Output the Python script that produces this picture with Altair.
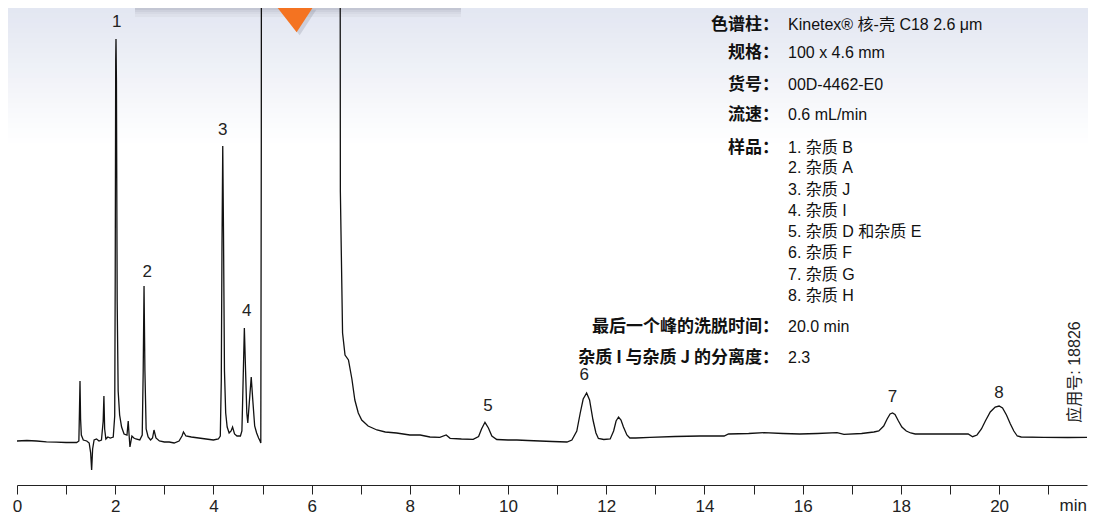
import altair as alt
import pandas as pd

# ---- chromatogram trace (time in min, detector signal, arbitrary units) ----
time_min = [
    0.00, 0.20, 0.40, 0.60, 0.80, 1.00, 1.215, 1.26, 1.272, 1.283, 1.295, 1.31, 1.35, 1.42,
    1.47, 1.50, 1.52, 1.54, 1.57, 1.62, 1.67, 1.72, 1.755, 1.77, 1.785, 1.81, 1.85, 1.90,
    1.96, 1.99, 2.00, 2.01, 2.016, 2.025, 2.04, 2.06, 2.09, 2.13, 2.18, 2.24, 2.265, 2.28,
    2.30, 2.34, 2.38, 2.42, 2.50, 2.55, 2.57, 2.587, 2.605, 2.63, 2.67, 2.72, 2.76, 2.79,
    2.83, 2.90, 3.00, 3.10, 3.20, 3.30, 3.36, 3.39, 3.44, 3.55, 3.70, 3.85, 4.00, 4.10,
    4.14, 4.16, 4.175, 4.19, 4.205, 4.225, 4.25, 4.28, 4.32, 4.36, 4.39, 4.43, 4.48, 4.55,
    4.58, 4.60, 4.63, 4.655, 4.68, 4.70, 4.73, 4.77, 4.80, 4.84, 4.88, 4.92, 4.95, 4.965,
    4.975, 4.985, 6.57, 6.585, 6.63, 6.68, 6.75, 6.82, 6.88, 6.95, 7.02, 7.15, 7.33, 7.50,
    7.73, 8.00, 8.21, 8.41, 8.61, 8.74, 8.82, 9.05, 9.29, 9.40, 9.46, 9.53, 9.60, 9.67,
    9.77, 10.00, 10.18, 10.40, 10.65, 10.90, 11.20, 11.30, 11.40, 11.47, 11.53, 11.60, 11.66, 11.73,
    11.79, 11.84, 11.95, 12.08, 12.15, 12.20, 12.25, 12.30, 12.35, 12.42, 12.48, 12.60, 12.89, 13.40,
    13.91, 14.40, 14.49, 14.90, 15.21, 15.60, 15.94, 16.30, 16.70, 16.84, 17.20, 17.45, 17.55, 17.65,
    17.72, 17.78, 17.83, 17.88, 17.95, 18.02, 18.11, 18.20, 18.29, 18.80, 19.37, 19.46, 19.55, 19.64,
    19.72, 19.82, 19.92, 20.00, 20.07, 20.15, 20.23, 20.30, 20.37, 20.45, 20.91, 21.40, 21.98,
]
signal = [
    0.0, 0.5, 0.0, -0.8, -1.2, -1.5, -1.5, 0.0, 30, 60, 22, 6, 1, 0,
    -2, -12, -29, -8, 1, 2, 0, 1, 20, 45, 12, 2, 4, 3,
    4, 25, 160, 380, 402, 360, 140, 50, 26, 14, 7, 6, 20, 8,
    -6, 5, 3, 2, 1, 6, 70, 155, 70, 12, 4, 1, 3, 11,
    3, 0, -1, -1, -2, 0, 5, 9, 5, 4, 3, 2, 1, 2,
    5, 60, 200, 295, 210, 70, 28, 14, 8, 10, 14, 7, 5, 5,
    10, 50, 113, 70, 28, 18, 38, 64, 42, 15, 8, 3, 0, -2,
    300, 1200, 1200, 250, 108, 86, 81, 62, 41, 28, 21, 15, 11, 9,
    8, 6, 6, 4, 3.7, 6, 2.7, 2, 1.7, 4.5, 12, 18.7, 13, 5,
    1.5, 1, 1, 0.5, 0, -0.5, -1, 1, 10, 28, 42, 48, 41, 21,
    8, 2.5, 1.5, 2, 10, 20, 24, 21, 14, 6, 3, 3, 3.7, 4.5,
    5, 5, 7, 7.5, 8.3, 7.5, 7, 7.5, 8.3, 6.7, 7.5, 9, 10, 15,
    22, 27, 28, 26.5, 20, 14, 10, 8, 7, 7, 7, 4.3, 6, 12,
    20, 29, 34, 35, 33, 26, 17, 10, 5, 4, 3.7, 3.5, 3.7,
]

# ---- peak labels ----
peak_ids = ["1", "2", "3", "4", "5", "6", "7", "8"]
label_time = [2.03, 2.65, 4.19, 4.68, 9.59, 11.55, 17.83, 20.00]
label_level = [419, 169, 311, 130, 35, 66, 44, 48]

# ---- info block ----
info_labels = ["色谱柱：", "规格：", "货号：", "流速：", "样品：",
               "最后一个峰的洗脱时间：", "杂质 I 与杂质 J 的分离度："]
info_values = ["Kinetex® 核-壳 C18 2.6 μm", "100 x 4.6 mm", "00D-4462-E0",
               "0.6 mL/min", "1. 杂质 B", "20.0 min", "2.3"]
sample_items = ["2. 杂质 A", "3. 杂质 J", "4. 杂质 I", "5. 杂质 D 和杂质 E",
                "6. 杂质 F", "7. 杂质 G", "8. 杂质 H"]
app_note = "应用号: 18826"
x_ticks = list(range(0, 22))

# ---------------- styling / layout (pixels, plot coordinates) ----------------
W, H = 1070, 477
info_rows_y = [17, 45, 77, 107, 140, 319, 350]
sample_rows_y = [160, 182, 203, 224, 245, 267, 288]
bg_band_colors = [
    "#e3e7f2", "#e4e8f2", "#e5e8f3", "#e6e9f3", "#e7eaf3", "#e8ebf4", "#e9ecf4",
    "#eaedf5", "#ebeef5", "#eceff6", "#edf0f6", "#eef1f7", "#eff2f7", "#f0f2f8",
    "#f2f3f8", "#f3f4f9", "#f4f5f9", "#f5f6fa", "#f6f7fa", "#f7f8fb", "#f8f9fc",
    "#f9fafc", "#fafbfd", "#fbfcfd", "#fcfdfe", "#fdfdfe", "#fefeff", "#ffffff",
]
shadow_colors = ["#c3c6d3", "#cdd0dc", "#d6d9e4", "#dde0ea"]

FONT = "'Liberation Sans', 'Noto Sans CJK SC', sans-serif"
CJK_BOLD = "'Noto Sans CJK SC', 'Liberation Sans', sans-serif"

trace = pd.DataFrame({"t": time_min, "s": signal})
labels_df = pd.DataFrame({"id": peak_ids, "t": label_time, "s": label_level})
info_df = pd.DataFrame({"label": info_labels, "value": info_values, "py": info_rows_y})
samp_df = pd.DataFrame({"value": sample_items, "py": sample_rows_y})
bands_df = pd.DataFrame({
    "y0": [i * 5 for i in range(len(bg_band_colors))],
    "y1": [i * 5 + 6 for i in range(len(bg_band_colors))],
    "c": bg_band_colors,
})
shadow_df = pd.DataFrame({
    "y0": [i * 2 for i in range(len(shadow_colors))],
    "y1": [i * 2 + 3 for i in range(len(shadow_colors))],
    "c": shadow_colors,
})

xscale = alt.Scale(domain=[0, 21.79], nice=False, zero=False)
yscale = alt.Scale(domain=[-44, 433], nice=False, zero=False)

one = alt.Data(values=[{}])

bg = alt.Chart(bands_df).mark_rect(strokeWidth=0).encode(
    x=alt.value(-9), x2=alt.value(W + 10),
    y=alt.Y("y0:Q", scale=None, axis=None), y2="y1:Q",
    color=alt.Color("c:N", scale=None, legend=None),
)

shadow = alt.Chart(shadow_df).mark_rect(strokeWidth=0).encode(
    x=alt.value(118), x2=alt.value(444),
    y=alt.Y("y0:Q", scale=None, axis=None), y2="y1:Q",
    color=alt.Color("c:N", scale=None, legend=None),
)

tri_path = "M -1 -1 L 1 -1 L 0.09 0.4 Z"
tri_shadow = alt.Chart(one).mark_point(
    shape=tri_path, filled=True, size=1340, color="#7a7e90", opacity=0.25, strokeWidth=0
).encode(x=alt.value(281), y=alt.value(20))
tri = alt.Chart(one).mark_point(
    shape=tri_path, filled=True, size=1340, color="#f47321", opacity=1, strokeWidth=0
).encode(x=alt.value(278), y=alt.value(17))

line = alt.Chart(trace).mark_line(color="#111111", strokeWidth=1.3, clip=True).encode(
    x=alt.X("t:Q", scale=xscale,
            axis=alt.Axis(values=x_ticks, format="d",
                          labelExpr="datum.value % 2 === 0 ? datum.label : ''",
                          title=None, grid=False, tickSize=9, tickWidth=1,
                          domainWidth=1.2, domainColor="#222", tickColor="#222",
                          labelColor="#222", labelFontSize=17, labelFont=FONT,
                          labelPadding=4, labelOverlap=False, labelFlush=False)),
    y=alt.Y("s:Q", scale=yscale, axis=None),
    order="t:Q",
)

peak_text = alt.Chart(labels_df).mark_text(
    font=FONT, fontSize=17, color="#222", baseline="middle", align="center"
).encode(x=alt.X("t:Q", scale=xscale),
         y=alt.Y("s:Q", scale=yscale, axis=None), text="id:N")

min_text = alt.Chart(one).mark_text(
    text="min", font=FONT, fontSize=17, color="#222", align="right", baseline="top"
).encode(x=alt.value(W), y=alt.value(H + 13))

lab_text = alt.Chart(info_df).mark_text(
    font=CJK_BOLD, fontSize=17, fontWeight="bold", color="#111", align="right", baseline="middle"
).encode(x=alt.value(762), y=alt.Y("py:Q", scale=None, axis=None), text="label:N")

val_text = alt.Chart(info_df).mark_text(
    font=FONT, fontSize=16, color="#111", align="left", baseline="middle"
).encode(x=alt.value(771), y=alt.Y("py:Q", scale=None, axis=None), text="value:N")

samp_text = alt.Chart(samp_df).mark_text(
    font=FONT, fontSize=16, color="#111", align="left", baseline="middle"
).encode(x=alt.value(771), y=alt.Y("py:Q", scale=None, axis=None), text="value:N")

note_text = alt.Chart(one).mark_text(
    text=app_note, font=FONT, fontSize=16, color="#222", angle=270,
    align="center", baseline="middle"
).encode(x=alt.value(1058), y=alt.value(364))

chart = alt.layer(
    bg, shadow, line, tri_shadow, tri, peak_text, min_text,
    lab_text, val_text, samp_text, note_text
).properties(
    width=W, height=H,
    autosize=alt.AutoSizeParams(type="none"),
    padding={"left": 9, "top": 0, "right": 1, "bottom": 30},
).configure_view(strokeWidth=0).resolve_scale(y="independent", color="independent")

chart.save("out.html", embed_options={"renderer": "svg", "actions": False})
